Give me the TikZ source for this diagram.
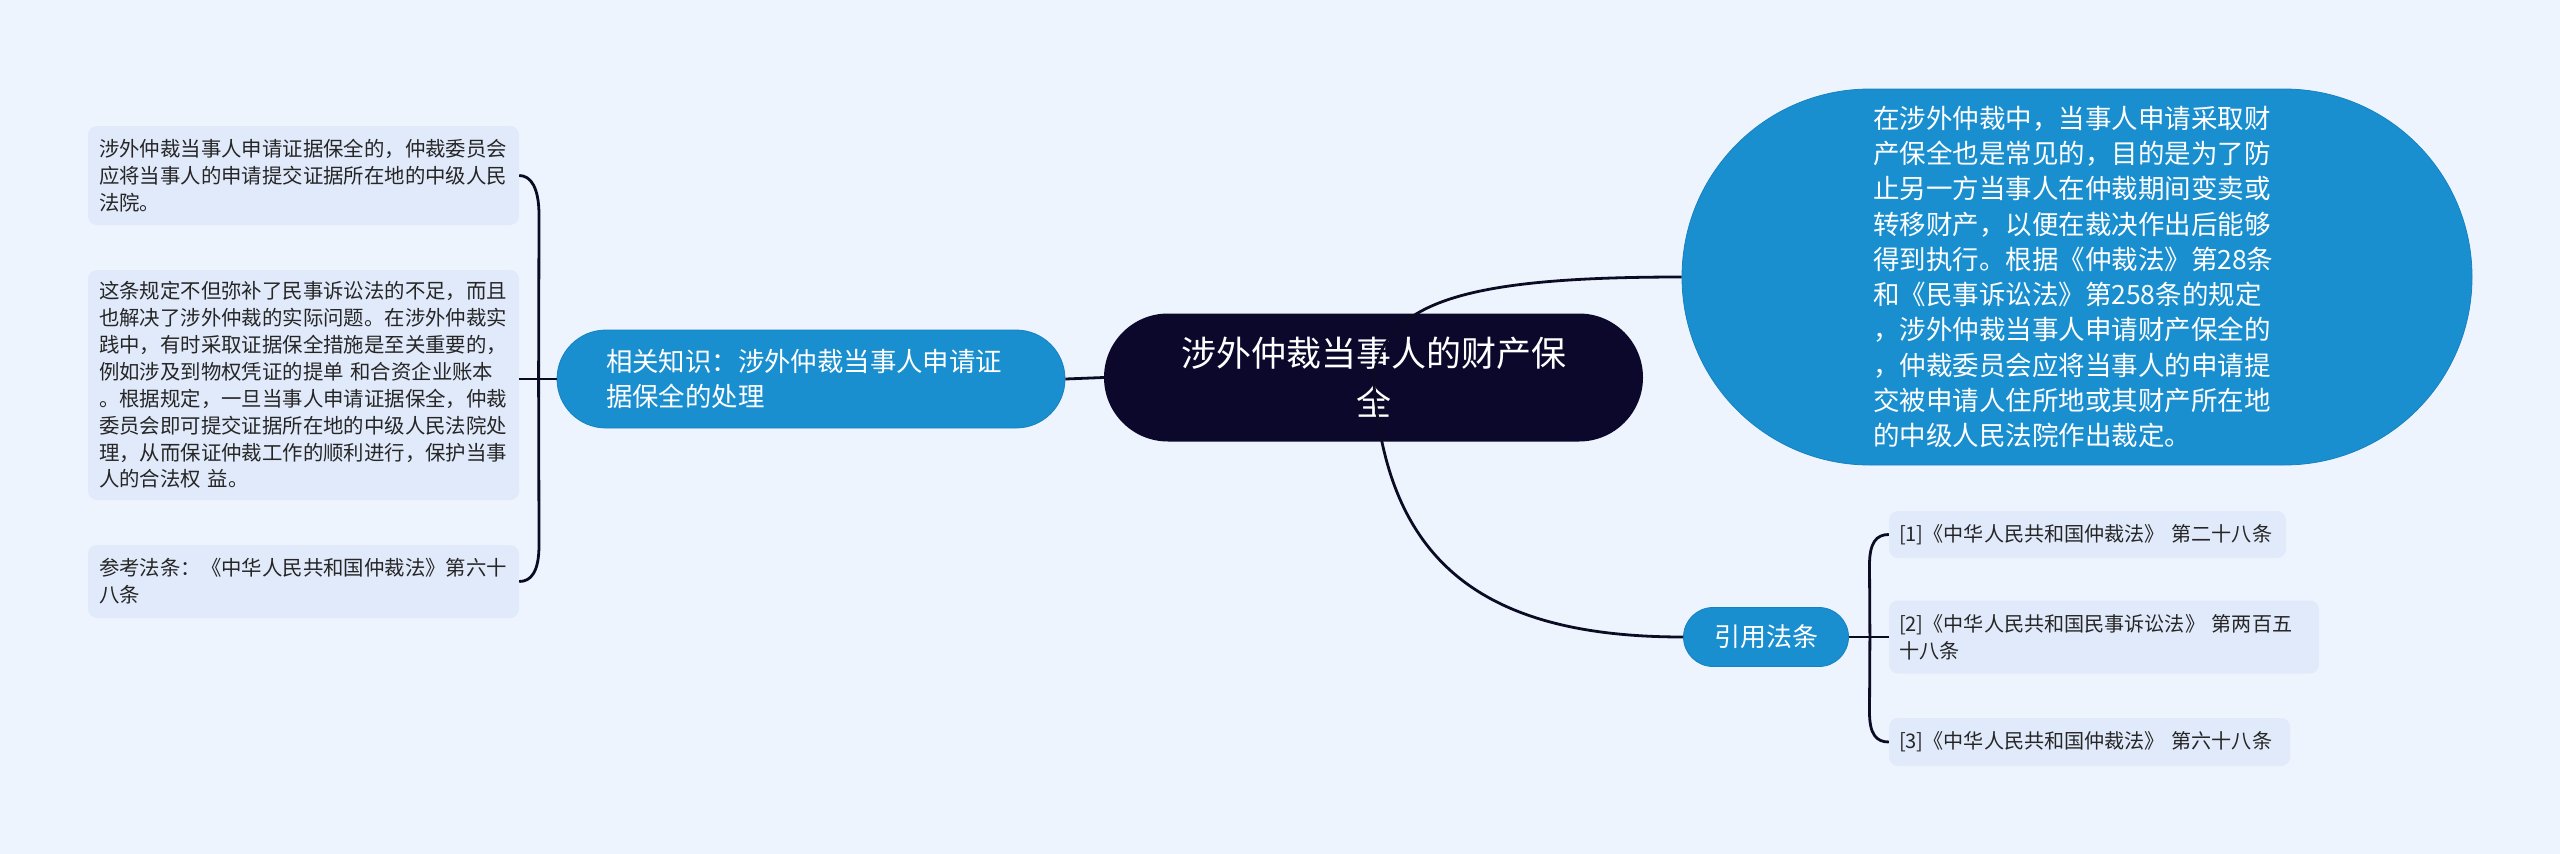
\documentclass[tikz,border=0pt]{standalone}
\usepackage{fontspec}
\setmainfont{Noto Sans CJK SC}
\definecolor{bgc}{HTML}{EEF4FE}
\definecolor{leaffill}{HTML}{E1EAFA}
\definecolor{bluec}{HTML}{1A8FD0}
\definecolor{bluedge}{HTML}{1782BF}
\definecolor{darkc}{HTML}{0B082C}
\definecolor{linec}{HTML}{0B0B24}
\definecolor{leaftext}{HTML}{262626}
\begin{document}
\begin{tikzpicture}[x=1pt,y=-1pt,
  conn/.style={draw=linec, line width=2.8pt},
  leafbox/.style={fill=leaffill, rounded corners=9pt, text=leaftext, align=left, inner ysep=0pt, inner xsep=11pt},
  lleaf/.style={leafbox, font=\fontsize{20.4}{26.9}\selectfont, minimum width=431pt, text width=409pt},
  rleaf/.style={leafbox, inner xsep=10pt, font=\fontsize{20.1}{27}\selectfont},
  bluenode/.style={fill=bluec, draw=bluedge, line width=0.8pt, text=white, inner ysep=0pt},
  centralnode/.style={fill=darkc, text=white, rounded corners=64pt, align=center, inner sep=0pt, font=\fontsize{35}{49}\selectfont}
]
\fill[bgc] (0,0) rectangle (2560,854);
\useasboundingbox (0,0) rectangle (2560,854);

% central
\node[centralnode, minimum width=539pt, minimum height=128pt] (c) at (1373.5,377.5) {涉外仲裁当事人的财产保\\全};

% left branch
\node[bluenode, rounded corners=49pt, minimum width=508pt, minimum height=98pt, inner xsep=49pt, text width=410pt, align=left, font=\fontsize{26.4}{35}\selectfont] (rel) at (811,379) {相关知识：涉外仲裁当事人申请证\\据保全的处理};

\node[lleaf, minimum height=99pt] (l1) at (303.5,175.5) {涉外仲裁当事人申请证据保全的，仲裁委员会\\应将当事人的申请提交证据所在地的中级人民\\法院。};
\node[lleaf, minimum height=230pt] (l2) at (303.5,385) {这条规定不但弥补了民事诉讼法的不足，而且\\也解决了涉外仲裁的实际问题。在涉外仲裁实\\践中，有时采取证据保全措施是至关重要的，\\例如涉及到物权凭证的提单 和合资企业账本\\。根据规定，一旦当事人申请证据保全，仲裁\\委员会即可提交证据所在地的中级人民法院处\\理，从而保证仲裁工作的顺利进行，保护当事\\人的合法权 益。};
\node[lleaf, minimum height=73pt] (l3) at (303.5,581.5) {参考法条：《中华人民共和国仲裁法》第六十\\八条};

% right big node
\node[bluenode, rounded corners=187.9pt, minimum width=790pt, minimum height=376pt, inner xsep=191pt, text width=408pt, align=left, font=\fontsize{26.5}{35.3}\selectfont] (big) at (2077,277) {在涉外仲裁中，当事人申请采取财\\产保全也是常见的，目的是为了防\\止另一方当事人在仲裁期间变卖或\\转移财产，以便在裁决作出后能够\\得到执行。根据《仲裁法》第28条\\和《民事诉讼法》第258条的规定\\，涉外仲裁当事人申请财产保全的\\，仲裁委员会应将当事人的申请提\\交被申请人住所地或其财产所在地\\的中级人民法院作出裁定。};

% citations
\node[bluenode, rounded corners=29.5pt, minimum width=165pt, minimum height=59pt, inner xsep=0pt, align=center, font=\fontsize{26}{30}\selectfont] (yin) at (1766,637) {引用法条};

\node[rleaf, minimum width=397pt, text width=377pt, minimum height=47pt] (r1) at (2087.5,534.5) {[1]《中华人民共和国仲裁法》 第二十八条};
\node[rleaf, minimum width=430pt, text width=410pt, minimum height=73pt] (r2) at (2104,637) {[2]《中华人民共和国民事诉讼法》 第两百五\\十八条};
\node[rleaf, minimum width=401pt, text width=381pt, minimum height=48pt] (r3) at (2089.5,742) {[3]《中华人民共和国仲裁法》 第六十八条};

% junctions
\coordinate (LJ) at ([xshift=-18pt]rel.west);
\coordinate (RJ) at ([xshift=21pt]yin.east);

% connectors
\draw[conn] (c.west) -- (rel.east);
\draw[conn] (rel.west) -- (LJ);
\draw[conn] (LJ) -- (539,215) .. controls (539,188) and (531,175.5) .. (l1.east);
\draw[conn] (LJ) -- (LJ -| l2.east);
\draw[conn] (LJ) -- (539,545) .. controls (539,572) and (531,581.5) .. (l3.east);

\draw[conn] (c.center) .. controls (1385,300) and (1470,277) .. (big.west);
\draw[conn] (c.center) .. controls (1385,560) and (1480,637) .. (yin.west);

\draw[conn] (yin.east) -- (RJ);
\draw[conn] (RJ) -- (1869.5,565) .. controls (1869.5,543) and (1876,534.5) .. (r1.west);
\draw[conn] (RJ) -- (RJ -| r2.west);
\draw[conn] (RJ) -- (1869.5,712) .. controls (1869.5,734) and (1876,742) .. (r3.west);
\end{tikzpicture}
\end{document}
